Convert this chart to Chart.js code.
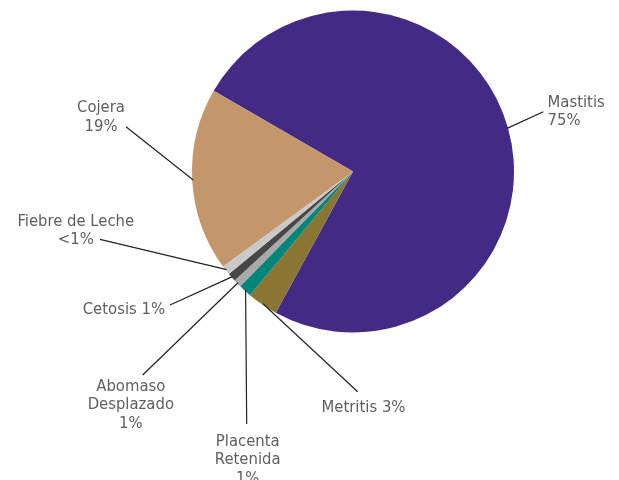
<!DOCTYPE html>
<html>
<head>
<meta charset="utf-8">
<script src="https://cdn.jsdelivr.net/npm/chart.js@4"></script>
<style>
  html, body { margin: 0; padding: 0; background: #fff; }
  #wrap { width: 619px; height: 480px; }
</style>
</head>
<body>
<div id="wrap"><canvas id="c" width="619" height="480"></canvas></div>
<script>
const categories = ['Mastitis', 'Metritis', 'Placenta Retenida', 'Abomaso Desplazado', 'Cetosis', 'Fiebre de Leche', 'Cojera'];
const values = [74.6, 3.1, 1.3, 0.8, 0.85, 0.95, 18.4];
const pctLabels = ['75%', '3%', '1%', '1%', '1%', '<1%', '19%'];
const colors = ['#432a85', '#8b7532', '#00857a', '#a9a9a9', '#474747', '#c9c9c9', '#c4976a'];

// label layout: how text wraps, alignment, text anchor and leader-line end
const labelLayout = [
  { mode: 'two',   align: 'left',   x: 547.5, y: 106.5, end: [543.3, 111.7] },
  { mode: 'one',   align: 'left',   x: 321.5, y: 412.3, end: [357.7, 391.7] },
  { mode: 'split', align: 'center', x: 247.7, y: 446.0, end: [246.7, 424.0] },
  { mode: 'split', align: 'center', x: 130.8, y: 390.7, end: [142.7, 375.0] },
  { mode: 'one',   align: 'right',  x: 165.0, y: 314.3, end: [170.0, 305.0] },
  { mode: 'two',   align: 'center', x: 75.8,  y: 225.7, end: [100.0, 239.3] },
  { mode: 'two',   align: 'center', x: 101.0, y: 112.3, end: [126.0, 126.7] }
];
const lineHeight = 18.4;

function linesFor(i) {
  const m = labelLayout[i].mode;
  if (m === 'one') return [categories[i] + ' ' + pctLabels[i]];
  if (m === 'two') return [categories[i], pctLabels[i]];
  return categories[i].split(' ').concat([pctLabels[i]]);
}

const labelPlugin = {
  id: 'leaderLabels',
  afterDraw(chart) {
    const ctx = chart.ctx;
    const meta = chart.getDatasetMeta(0);
    ctx.save();
    meta.data.forEach((arc, i) => {
      const p = arc.getProps(['x', 'y', 'startAngle', 'endAngle', 'outerRadius'], true);
      const mid = (p.startAngle + p.endAngle) / 2;
      const ax = p.x + Math.cos(mid) * (p.outerRadius - 1);
      const ay = p.y + Math.sin(mid) * (p.outerRadius - 1);
      const L = labelLayout[i];
      ctx.strokeStyle = '#222222';
      ctx.lineWidth = 1.2;
      ctx.beginPath();
      ctx.moveTo(ax, ay);
      ctx.lineTo(L.end[0], L.end[1]);
      ctx.stroke();
      ctx.fillStyle = '#5e5e5e';
      ctx.font = '16.5px "DejaVu Sans Condensed", "Liberation Sans", sans-serif';
      ctx.textAlign = L.align;
      ctx.textBaseline = 'alphabetic';
      linesFor(i).forEach((t, k) => {
        ctx.fillText(t, L.x, L.y + k * lineHeight);
      });
    });
    ctx.restore();
  }
};

new Chart(document.getElementById('c'), {
  type: 'pie',
  data: {
    labels: categories,
    datasets: [{
      data: values,
      backgroundColor: colors,
      borderWidth: 0
    }]
  },
  options: {
    responsive: false,
    animation: false,
    rotation: 300.1,
    layout: { padding: { left: 192, right: 105, top: 10.5, bottom: 147.5 } },
    plugins: {
      legend: { display: false },
      tooltip: { enabled: false }
    }
  },
  plugins: [labelPlugin]
});
</script>
</body>
</html>
